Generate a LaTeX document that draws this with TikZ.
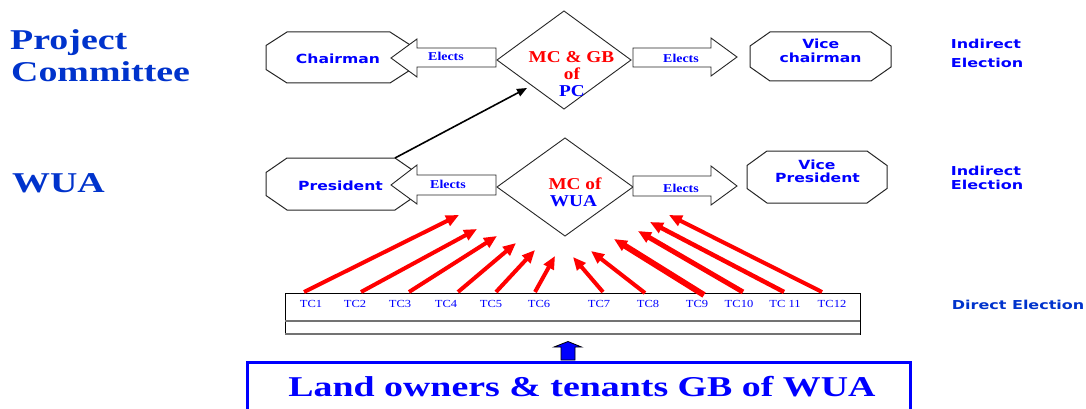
\documentclass[tikz,border=0pt]{standalone}
\usepackage{fontspec}
\setmainfont{Liberation Serif}[FakeStretch=1.16]
\newfontfamily\titlefont{Liberation Serif}[FakeStretch=1.32]
\newfontfamily\labfont{DejaVu Sans}[FakeStretch=1.24]
\newfontfamily\elecfont{DejaVu Sans}[FakeStretch=1.3]
\usetikzlibrary{arrows.meta,shapes.geometric,calc}
\definecolor{tblue}{RGB}{0,51,204}
\definecolor{lblue}{RGB}{0,0,255}
\definecolor{lred}{RGB}{255,0,0}
\newcommand\octdraw[3]{\draw[octline] ([yshift=-#3]#1.north west) -- ([xshift=#2]#1.north west) -- ([xshift=-#2]#1.north east) -- ([yshift=-#3]#1.north east) -- ([yshift=#3]#1.south east) -- ([xshift=-#2]#1.south east) -- ([xshift=#2]#1.south west) -- ([yshift=#3]#1.south west) -- cycle;}
\tikzset{
  octbox/.style={rectangle, draw=none, inner sep=0, outer sep=0},
  octline/.style={draw=black!85, line width=1pt, fill=white},
  dia/.style={diamond, draw=black!85, line width=0.9pt, fill=white, inner sep=0, outer sep=0},
  barrow/.style={draw=black!85, line width=0.9pt, fill=white, line join=miter},
  title/.style={font=\titlefont\bfseries\fontsize{28.7}{32}\selectfont, text=tblue, inner sep=0, anchor=base west},
  elects/.style={font=\bfseries\fontsize{12}{14}\selectfont, text=lblue, inner sep=0, anchor=base},
  tc/.style={font=\fontsize{10.8}{12}\selectfont, text=lblue, inner sep=0, anchor=base},
  diat/.style={font=\bfseries\fontsize{16.6}{17}\selectfont, inner sep=0, anchor=base},
  lab/.style={font=\labfont\bfseries\fontsize{12.6}{14}\selectfont, text=lblue, inner sep=0, anchor=base},
  elec/.style={font=\elecfont\bfseries\fontsize{12.3}{14}\selectfont, text=lblue, inner sep=0, anchor=base west},
  redarr/.style={draw=lred, -{Triangle[length=13pt,width=11pt]}},
  blkarr/.style={draw=black, line width=1.6pt, -{Triangle[length=10pt,width=8pt]}},
}
\begin{document}
\begin{tikzpicture}[x=1pt,y=-1pt]
\clip (0,0) rectangle (1086,409);
\fill[white] (0,0) rectangle (1086,409);

% titles
\node[title] (pc1) at (10,50) {Project};
\node[title] (pc2) at (11,82) {Committee};
\node[title] (wua) at (12,192) {WUA};

% octagons
\node[octbox, minimum width=145, minimum height=51] (chair) at (338.5,57.5) {};
\node[octbox, minimum width=150, minimum height=52] (pres) at (341,184) {};
\node[octbox, minimum width=141, minimum height=49] (vchair) at (820.5,56.5) {};
\node[octbox, minimum width=140, minimum height=52] (vpres) at (817,177) {};
\octdraw{chair}{21pt}{13.5pt}
\octdraw{pres}{21pt}{14.5pt}
\octdraw{vchair}{20pt}{14pt}
\octdraw{vpres}{20pt}{14.5pt}

% diamonds
\node[dia, minimum width=134, minimum height=98] (mc1) at (564,60) {};
\node[dia, minimum width=136, minimum height=98] (mc2) at (565,187) {};

% block arrows row 1
\draw[barrow] ([shift={(-1,-12)}]mc1.west) -- ++(-79,0) -- ++(0,-9) -- ++(-26,19) -- ++(26,19) -- ++(0,-10) -- ++(79,0) -- cycle;
\draw[barrow] ([shift={(2,-12)}]mc1.east) -- ++(78,0) -- ++(0,-10) -- ++(26,19) -- ++(-26,19) -- ++(0,-9) -- ++(-78,0) -- cycle;
% block arrows row 2
\draw[barrow] ([shift={(-1,-12)}]mc2.west) -- ++(-79,0) -- ++(0,-10) -- ++(-26,20) -- ++(26,19) -- ++(0,-9) -- ++(79,0) -- cycle;
\draw[barrow] ([shift={(0,-11)}]mc2.east) -- ++(78,0) -- ++(0,-10) -- ++(26,20) -- ++(-26,19) -- ++(0,-9) -- ++(-78,0) -- cycle;

% texts
\node[lab] (chairt) at (338,63.3) {Chairman};
\node[lab] (prest) at (340.5,190) {President};
\node[lab] (vchairt1) at (820.8,48.3) {Vice};
\node[lab] (vchairt2) at (820.5,62.3) {chairman};
\node[lab] (vprest1) at (817,169) {Vice};
\node[lab] (vprest2) at (817.5,182.3) {President};

\node[elects] (el1) at (446,61) {Elects};
\node[elects] (el2) at (681,63) {Elects};
\node[elects] (el3) at (448,188) {Elects};
\node[elects] (el4) at (681,192) {Elects};

\node[diat, text=lred] (mc1a) at (571.5,63) {MC \& GB};
\node[diat, text=lred] (mc1b) at (572,80) {of};
\node[diat, text=lblue] (mc1c) at (572,96.5) {PC};
\node[diat, text=lred] (mc2a) at (575,189.5) {MC of};
\node[diat, text=lblue] (mc2b) at (573.5,206) {WUA};

\node[elec] (ie1a) at (950.7,48.3) {Indirect};
\node[elec] (ie1b) at (950.7,67.7) {Election};
\node[elec] (ie2a) at (950.7,175.7) {Indirect};
\node[elec] (ie2b) at (950.7,189) {Election};
\node[elec, text=tblue] (de) at (951.7,309.3) {Direct Election};

% President -> PC arrow
\coordinate (pcin) at (527,88);
\draw[blkarr] ([xshift=-21pt]pres.north east) -- (pcin);

% TC box
\node[draw=black, line width=0.9pt, rectangle, inner sep=0, outer sep=0, minimum width=575, minimum height=41, anchor=north west] (tcbox) at (285,293) {};
\draw[draw=black!55, line width=1.6pt] ([yshift=-28pt]tcbox.north west) -- ([yshift=-28pt]tcbox.north east);
\draw[draw=black!55, line width=1.4pt] (tcbox.south west) -- (tcbox.south east);

\foreach \n/\x in {1/311,2/355,3/400,4/446,5/491,6/539,7/599,8/648,9/697,10/739,12/832}{
  \node[tc] (tc\n) at (\x,307.5) {TC\n};
}
\node[tc] (tc11) at (785,307.5) {TC 11};

% red arrows
\foreach \i/\sx/\sy/\ex/\ey/\w in {1/304/292/459/215/4, 2/361/292/477/229/4, 3/409/292/497/236/4, 4/458/292/516/243/4, 5/496/292/535/250/4, 6/535/292/555/256/4, 7/603/292/573/257/4, 8/645/293/591/251/4, 9/704/295/614/239/6, 10/743/292/638/231/5, 11/784/292/650/222/4.5, 12/822/292/669/215/4}{
  \coordinate (s\i) at (\sx,\sy);
  \coordinate (e\i) at (\ex,\ey);
  \draw[redarr, line width=\w pt] (s\i) -- (e\i);
}

% bottom box
\node[draw=lblue, line width=3pt, rectangle, inner sep=0, outer sep=0, minimum width=663, minimum height=80, anchor=north west] (gb) at (247,362) {};
\node[title, anchor=base, text=lblue] (gbt) at (582,396) {Land owners \& tenants GB of WUA};

% small blue up arrow
\draw[fill=lblue, draw=black, line width=0.8pt, line join=miter] ([xshift=-7pt,yshift=2pt]gb.north -| 568,0) -- ++(0,-13) -- ++(-7,0) -- ++(14,-5.5) -- ++(13.5,5.5) -- ++(-6.5,0) -- ++(0,13) -- cycle;
\end{tikzpicture}
\end{document}
